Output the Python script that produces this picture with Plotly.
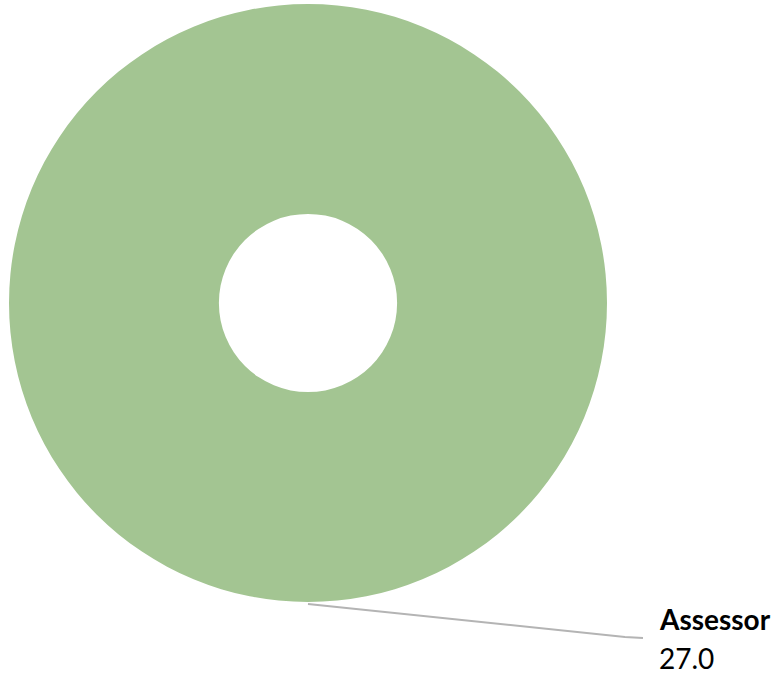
import plotly.graph_objects as go

labels = ["Assessor"]
values = [27.0]
colors = ["#A3C592"]

W, H = 773, 676
cx, cy, R = 308, 303, 299

fig = go.Figure()
fig.add_trace(go.Pie(
    labels=labels, values=values, hole=0.298,
    marker=dict(colors=colors, line=dict(width=0)),
    textinfo="none", sort=False, hoverinfo="label+value",
    domain=dict(x=[(cx - R) / W, (cx + R) / W], y=[(H - cy - R) / H, (H - cy + R) / H]),
    showlegend=False,
))

# leader line from bottom of ring to label
fig.add_shape(type="path",
              path=f"M {cx} {cy + R + 2} L 625 637 L 643 638",
              xref="x", yref="y", line=dict(color="#B4B4B4", width=2))
fig.update_xaxes(range=[0, W], visible=False, fixedrange=True)
fig.update_yaxes(range=[H, 0], visible=False, fixedrange=True)
fig.update_layout(xaxis=dict(domain=[0, 1]), yaxis=dict(domain=[0, 1]))

fig.add_annotation(x=657, y=619, xref="x", yref="y", text="<b>" + labels[0] + "</b>",
                   showarrow=False, xanchor="left", yanchor="middle",
                   font=dict(family="Lato", size=28, color="#000000"))
fig.add_annotation(x=657, y=658, xref="x", yref="y", text=f"{values[0]:.1f}",
                   showarrow=False, xanchor="left", yanchor="middle",
                   font=dict(family="Lato", size=28, color="#000000"))

fig.update_layout(width=W, height=H, margin=dict(l=0, r=0, t=0, b=0),
                  paper_bgcolor="white", plot_bgcolor="white")
fig.write_html("out.html")
